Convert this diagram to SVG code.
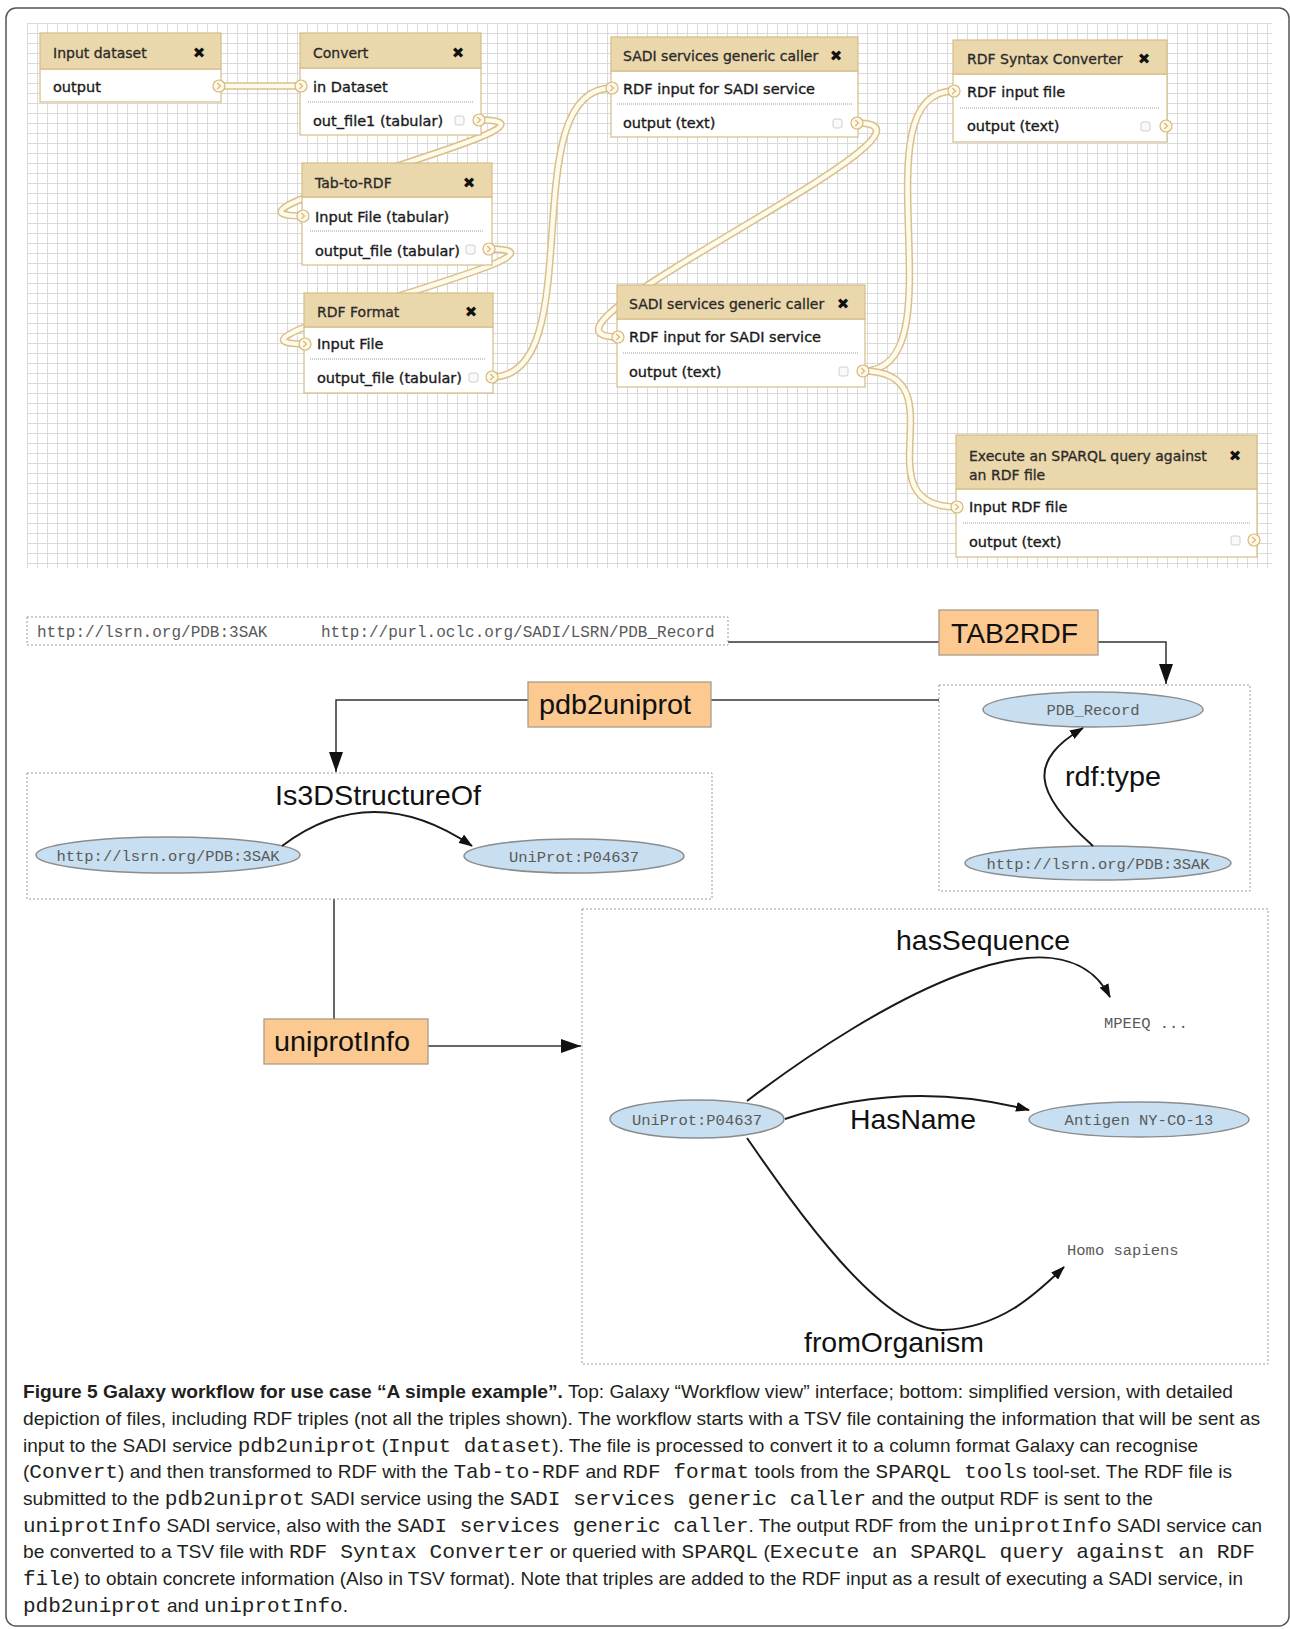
<svg xmlns="http://www.w3.org/2000/svg" xmlns:xlink="http://www.w3.org/1999/xlink" width="1290" height="1629" viewBox="0 0 1290 1629">
<defs>
<style>
.gh{fill:#ead7ab;stroke:#d6bd86;stroke-width:1.2}
.gb{fill:#ffffff;stroke:#d6bd86;stroke-width:1.2}
.gt{font-family:"DejaVu Sans",Verdana,sans-serif;font-size:14px;fill:#2a2a2a;stroke:#2a2a2a;stroke-width:0.3}
.gr{font-family:"DejaVu Sans",Verdana,sans-serif;font-size:14.5px;fill:#1a1a1a;stroke:#1a1a1a;stroke-width:0.35}
.gx{font-family:"DejaVu Sans",sans-serif;font-size:15px;fill:#111;text-anchor:middle;font-weight:bold}
.sep{stroke:#9a9a9a;stroke-width:1;stroke-dasharray:1,1}
.chk{fill:#fafafa;stroke:#cfcfcf;stroke-width:1}
.wo{fill:none;stroke:#d8c08c;stroke-width:7.5}
.wi{fill:none;stroke:#fffaea;stroke-width:4.5}
.dot{fill:none;stroke:#9a9a9a;stroke-width:1;stroke-dasharray:2,2}
.svc{fill:#fcc990;stroke:#a99c8a;stroke-width:1.3}
.big{font-family:"Liberation Sans",Arial,sans-serif;font-size:28.5px;fill:#111}
.ell{fill:#c7dff0;stroke:#8c8c8c;stroke-width:1.5}
.mono{font-family:"Liberation Mono","Courier New",monospace;font-size:15.5px;fill:#5a5a5a}
.monoc{font-family:"Liberation Mono","Courier New",monospace;font-size:15.5px;fill:#5a5a5a;text-anchor:middle}
.con{fill:none;stroke:#333;stroke-width:1.5}
.edge{fill:none;stroke:#1a1a1a;stroke-width:2}
.cap{font-family:"Liberation Sans",Arial,sans-serif;font-size:19px;fill:#231f20}
.m{font-family:"Liberation Mono","Courier New",monospace;font-size:21px}
</style>
<pattern id="grid" x="27" y="23" width="10" height="10" patternUnits="userSpaceOnUse">
<path d="M0.5,0 V10 M0,0.5 H10" stroke="#dadada" stroke-width="1" fill="none"/>
</pattern>
<g id="port"><circle r="6" fill="#fff8e6" stroke="#d4b97e" stroke-width="1.2"/><path d="M-1.8,-3 L1.5,0 L-1.8,3" fill="none" stroke="#d4b97e" stroke-width="1.2"/></g>
<marker id="ab" markerWidth="20" markerHeight="14" refX="20" refY="7" orient="auto" markerUnits="userSpaceOnUse"><path d="M0,0 L20,7 L0,14 z" fill="#111"/></marker>
<marker id="as" markerWidth="14" markerHeight="10" refX="13" refY="5" orient="auto" markerUnits="userSpaceOnUse"><path d="M0,0 L14,5 L0,10 z" fill="#111"/></marker>
</defs>

<rect x="0" y="0" width="1290" height="1629" fill="#ffffff"/>
<rect x="6" y="8" width="1283" height="1618" rx="10" fill="none" stroke="#555" stroke-width="1.5"/>

<g id="canvas">
<rect x="27" y="23" width="1245" height="545" fill="url(#grid)"/>
</g>

<g id="wires">
<path class="wo" d="M219,86 L301,86"/><path class="wi" d="M219,86 L301,86"/>
<path class="wo" d="M479,120 C599,120 183,216 303,216"/><path class="wi" d="M479,120 C599,120 183,216 303,216"/>
<path class="wo" d="M489,249 C609,249 185,344 305,344"/><path class="wi" d="M489,249 C609,249 185,344 305,344"/>
<path class="wo" d="M492,377 C592,377 512,88 612,88"/><path class="wi" d="M492,377 C592,377 512,88 612,88"/>
<path class="wo" d="M857,123 C977,123 498,337 618,337"/><path class="wi" d="M857,123 C977,123 498,337 618,337"/>
<path class="wo" d="M863,371 C963,371 854,91 954,91"/><path class="wi" d="M863,371 C963,371 854,91 954,91"/>
<path class="wo" d="M863,371 C963,371 857,507 957,507"/><path class="wi" d="M863,371 C963,371 857,507 957,507"/>
</g>

<g id="node-input-dataset">
<rect class="gb" x="40" y="69" width="181" height="33"/>
<rect class="gh" x="40" y="33" width="181" height="36"/>
<text class="gt" x="53" y="58">Input dataset</text>
<text class="gx" x="199" y="58">✖</text>
<text class="gr" x="53" y="92">output</text>
<use xlink:href="#port" x="219" y="86"/>
</g>

<g id="node-convert">
<rect class="gb" x="300" y="68" width="181" height="67"/>
<rect class="gh" x="300" y="33" width="181" height="35"/>
<text class="gt" x="313" y="58">Convert</text>
<text class="gx" x="458" y="58">✖</text>
<text class="gr" x="313" y="92">in Dataset</text>
<line class="sep" x1="308" y1="102" x2="473" y2="102"/>
<text class="gr" x="313" y="126">out_file1 (tabular)</text>
<rect class="chk" x="455" y="116" width="9" height="9" rx="2"/>
<use xlink:href="#port" x="301" y="86"/>
<use xlink:href="#port" x="479" y="120"/>
</g>

<g id="node-tab-to-rdf">
<rect class="gb" x="302" y="197" width="190" height="68"/>
<rect class="gh" x="302" y="163" width="190" height="34"/>
<text class="gt" x="315" y="188">Tab-to-RDF</text>
<text class="gx" x="469" y="188">✖</text>
<text class="gr" x="315" y="222">Input File (tabular)</text>
<line class="sep" x1="310" y1="231" x2="484" y2="231"/>
<text class="gr" x="315" y="256">output_file (tabular)</text>
<rect class="chk" x="466" y="245" width="9" height="9" rx="2"/>
<use xlink:href="#port" x="303" y="216"/>
<use xlink:href="#port" x="489" y="249"/>
</g>

<g id="node-rdf-format">
<rect class="gb" x="304" y="327" width="189" height="66"/>
<rect class="gh" x="304" y="293" width="189" height="34"/>
<text class="gt" x="317" y="317">RDF Format</text>
<text class="gx" x="471" y="317">✖</text>
<text class="gr" x="317" y="349">Input File</text>
<line class="sep" x1="310" y1="359" x2="486" y2="359"/>
<text class="gr" x="317" y="383">output_file (tabular)</text>
<rect class="chk" x="469" y="373" width="9" height="9" rx="2"/>
<use xlink:href="#port" x="305" y="344"/>
<use xlink:href="#port" x="492" y="377"/>
</g>

<g id="node-sadi-1">
<rect class="gb" x="611" y="71" width="247" height="66"/>
<rect class="gh" x="611" y="37" width="247" height="34"/>
<text class="gt" x="623" y="61">SADI services generic caller</text>
<text class="gx" x="836" y="61">✖</text>
<text class="gr" x="623" y="94">RDF input for SADI service</text>
<line class="sep" x1="617" y1="104" x2="852" y2="104"/>
<text class="gr" x="623" y="128">output (text)</text>
<rect class="chk" x="833" y="119" width="9" height="9" rx="2"/>
<use xlink:href="#port" x="612" y="88"/>
<use xlink:href="#port" x="857" y="123"/>
</g>

<g id="node-rdf-syntax-converter">
<rect class="gb" x="953" y="74" width="214" height="68"/>
<rect class="gh" x="953" y="40" width="214" height="34"/>
<text class="gt" x="967" y="64">RDF Syntax Converter</text>
<text class="gx" x="1144" y="64">✖</text>
<text class="gr" x="967" y="97">RDF input file</text>
<line class="sep" x1="960" y1="108" x2="1160" y2="108"/>
<text class="gr" x="967" y="131">output (text)</text>
<rect class="chk" x="1141" y="122" width="9" height="9" rx="2"/>
<use xlink:href="#port" x="954" y="91"/>
<use xlink:href="#port" x="1166" y="126"/>
</g>

<g id="node-sadi-2">
<rect class="gb" x="617" y="319" width="248" height="68"/>
<rect class="gh" x="617" y="285" width="248" height="34"/>
<text class="gt" x="629" y="309">SADI services generic caller</text>
<text class="gx" x="843" y="309">✖</text>
<text class="gr" x="629" y="342">RDF input for SADI service</text>
<line class="sep" x1="623" y1="353" x2="858" y2="353"/>
<text class="gr" x="629" y="377">output (text)</text>
<rect class="chk" x="839" y="367" width="9" height="9" rx="2"/>
<use xlink:href="#port" x="618" y="337"/>
<use xlink:href="#port" x="863" y="371"/>
</g>

<g id="node-execute-sparql">
<rect class="gb" x="956" y="489" width="301" height="68"/>
<rect class="gh" x="956" y="435" width="301" height="54"/>
<text class="gt" x="969" y="461">Execute an SPARQL query against</text>
<text class="gt" x="969" y="480">an RDF file</text>
<text class="gx" x="1235" y="461">✖</text>
<text class="gr" x="969" y="512">Input RDF file</text>
<line class="sep" x1="963" y1="523" x2="1250" y2="523"/>
<text class="gr" x="969" y="547">output (text)</text>
<rect class="chk" x="1231" y="536" width="9" height="9" rx="2"/>
<use xlink:href="#port" x="957" y="507"/>
<use xlink:href="#port" x="1254" y="540"/>
</g>

<g id="connectors">
<path class="con" d="M728,642 H939"/>
<path class="con" d="M1098,642 H1166 V684" marker-end="url(#ab)"/>
<path class="con" d="M939,700 H711"/>
<path class="con" d="M528,700 H336 V772" marker-end="url(#ab)"/>
<path class="con" d="M334,899 V1019"/>
<path class="con" d="M428,1046 H581" marker-end="url(#ab)"/>
</g>

<g id="input-file">
<rect class="dot" x="27" y="617" width="701" height="28"/>
<text class="mono" x="37" y="637" style="font-size:16px">http://lsrn.org/PDB:3SAK</text>
<text class="mono" x="321" y="637" style="font-size:16px">http://purl.oclc.org/SADI/LSRN/PDB_Record</text>
</g>

<g id="svc-tab2rdf">
<rect class="svc" x="939" y="610" width="159" height="45"/>
<text class="big" x="951" y="643" textLength="127" lengthAdjust="spacingAndGlyphs">TAB2RDF</text>
</g>

<g id="svc-pdb2uniprot">
<rect class="svc" x="528" y="682" width="183" height="45"/>
<text class="big" x="539" y="714" textLength="152" lengthAdjust="spacingAndGlyphs">pdb2uniprot</text>
</g>

<g id="svc-uniprotinfo">
<rect class="svc" x="264" y="1019" width="164" height="45"/>
<text class="big" x="274" y="1051" textLength="136" lengthAdjust="spacingAndGlyphs">uniprotInfo</text>
</g>

<g id="rdf-type-file">
<rect class="dot" x="939" y="685" width="311" height="206"/>
<ellipse class="ell" cx="1093" cy="709.5" rx="110" ry="17.5"/>
<text class="monoc" x="1093" y="715">PDB_Record</text>
<ellipse class="ell" cx="1098" cy="863" rx="133" ry="17"/>
<text class="monoc" x="1098" y="868.5">http://lsrn.org/PDB:3SAK</text>
<path class="edge" d="M1093,846 C1030,790 1030,760 1083,728" marker-end="url(#as)"/>
<text class="big" x="1065" y="786" textLength="96" lengthAdjust="spacingAndGlyphs">rdf:type</text>
</g>

<g id="is3d-file">
<rect class="dot" x="27" y="773" width="685" height="126"/>
<text class="big" x="275" y="805" textLength="206" lengthAdjust="spacingAndGlyphs">Is3DStructureOf</text>
<ellipse class="ell" cx="168" cy="855" rx="132" ry="18"/>
<text class="monoc" x="168" y="860.5">http://lsrn.org/PDB:3SAK</text>
<ellipse class="ell" cx="574" cy="856" rx="110" ry="17"/>
<text class="monoc" x="574" y="861.5">UniProt:P04637</text>
<path class="edge" d="M282,846 Q372,778 472,846" marker-end="url(#as)"/>
</g>

<g id="uniprot-info-file">
<rect class="dot" x="582" y="909" width="686" height="455"/>
<text class="big" x="896" y="950" textLength="174" lengthAdjust="spacingAndGlyphs">hasSequence</text>
<path class="edge" d="M747,1101 C880,1000 1060,900 1110,997" marker-end="url(#as)"/>
<text class="mono" x="1104" y="1028">MPEEQ ...</text>
<ellipse class="ell" cx="697" cy="1119" rx="87" ry="19"/>
<text class="monoc" x="697" y="1124.5">UniProt:P04637</text>
<path class="edge" d="M785,1119 Q905,1078 1029,1110" marker-end="url(#as)"/>
<text class="big" x="850" y="1129" textLength="126" lengthAdjust="spacingAndGlyphs">HasName</text>
<ellipse class="ell" cx="1139" cy="1119.5" rx="110" ry="17.5"/>
<text class="monoc" x="1139" y="1125">Antigen NY-CO-13</text>
<path class="edge" d="M747,1138 C790,1200 880,1332 943,1330 C1000,1328 1035,1295 1064,1267" marker-end="url(#as)"/>
<text class="mono" x="1067" y="1255">Homo sapiens</text>
<text class="big" x="804" y="1352" textLength="180" lengthAdjust="spacingAndGlyphs">fromOrganism</text>
</g>

<g id="caption">
<text class="cap" x="23" y="1398" textLength="1210" lengthAdjust="spacingAndGlyphs"><tspan font-weight="bold">Figure 5 Galaxy workflow for use case “A simple example”.</tspan> Top: Galaxy “Workflow view” interface; bottom: simplified version, with detailed</text>
<text class="cap" x="23" y="1425" textLength="1237" lengthAdjust="spacingAndGlyphs">depiction of files, including RDF triples (not all the triples shown). The workflow starts with a TSV file containing the information that will be sent as</text>
<text class="cap" x="23" y="1452" textLength="1175" lengthAdjust="spacingAndGlyphs">input to the SADI service <tspan class="m">pdb2uniprot</tspan> (<tspan class="m">Input dataset</tspan>). The file is processed to convert it to a column format Galaxy can recognise</text>
<text class="cap" x="23" y="1478" textLength="1209" lengthAdjust="spacingAndGlyphs">(<tspan class="m">Convert</tspan>) and then transformed to RDF with the <tspan class="m">Tab-to-RDF</tspan> and <tspan class="m">RDF format</tspan> tools from the <tspan class="m">SPARQL tools</tspan> tool-set. The RDF file is</text>
<text class="cap" x="23" y="1505" textLength="1130" lengthAdjust="spacingAndGlyphs">submitted to the <tspan class="m">pdb2uniprot</tspan> SADI service using the <tspan class="m">SADI services generic caller</tspan> and the output RDF is sent to the</text>
<text class="cap" x="23" y="1532" textLength="1239" lengthAdjust="spacingAndGlyphs"><tspan class="m">uniprotInfo</tspan> SADI service, also with the <tspan class="m">SADI services generic caller</tspan>. The output RDF from the <tspan class="m">uniprotInfo</tspan> SADI service can</text>
<text class="cap" x="23" y="1558" textLength="1232" lengthAdjust="spacingAndGlyphs">be converted to a TSV file with <tspan class="m">RDF Syntax Converter</tspan> or queried with <tspan class="m">SPARQL</tspan> (<tspan class="m">Execute an SPARQL query against an RDF</tspan></text>
<text class="cap" x="23" y="1585" textLength="1220" lengthAdjust="spacingAndGlyphs"><tspan class="m">file</tspan>) to obtain concrete information (Also in TSV format). Note that triples are added to the RDF input as a result of executing a SADI service, in</text>
<text class="cap" x="23" y="1612" textLength="325" lengthAdjust="spacingAndGlyphs"><tspan class="m">pdb2uniprot</tspan> and <tspan class="m">uniprotInfo</tspan>.</text>
</g>
</svg>
